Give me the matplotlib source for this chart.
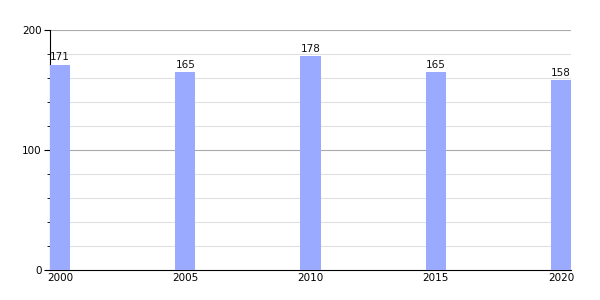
import matplotlib.pyplot as plt
import numpy as np

years = ['2000', '2005', '2010', '2015', '2020']
values = [171, 165, 178, 165, 158]

fig = plt.figure(figsize=(6, 3), dpi=100)
ax = fig.add_axes([50/600, 0.1, 521/600, 0.8])

x = np.arange(len(years))
ax.bar(x, values, width=0.16, color='#9aabff', zorder=3)
for xi, v in zip(x, values):
    ax.text(xi, v + 2, str(v), ha='center', va='bottom', fontsize=7.5, color='#111111')

ax.set_xlim(-0.08, 4.08)
ax.set_ylim(0, 200)
ax.set_xticks(x)
ax.set_xticklabels(years)
ax.set_yticks([0, 100, 200])
ax.set_yticks(np.arange(20, 200, 20), minor=True)

# grid: light minor lines, darker 100/200
for y in np.arange(20, 200, 20):
    if y != 100:
        ax.axhline(y, color='#e0e0e0', lw=0.8, zorder=1)
ax.axhline(100, color='#aaaaaa', lw=0.8, zorder=1)
ax.axhline(200, color='#aaaaaa', lw=0.8, zorder=1)

for s in ['top', 'right']:
    ax.spines[s].set_visible(False)
ax.spines['left'].set_color('black')
ax.spines['bottom'].set_color('black')
ax.tick_params(axis='x', length=0, labelsize=7.5, pad=2)
ax.tick_params(axis='y', which='major', length=4, labelsize=7.5, pad=2)
ax.tick_params(axis='y', which='minor', length=2)

fig.savefig('out.png', dpi=100)
